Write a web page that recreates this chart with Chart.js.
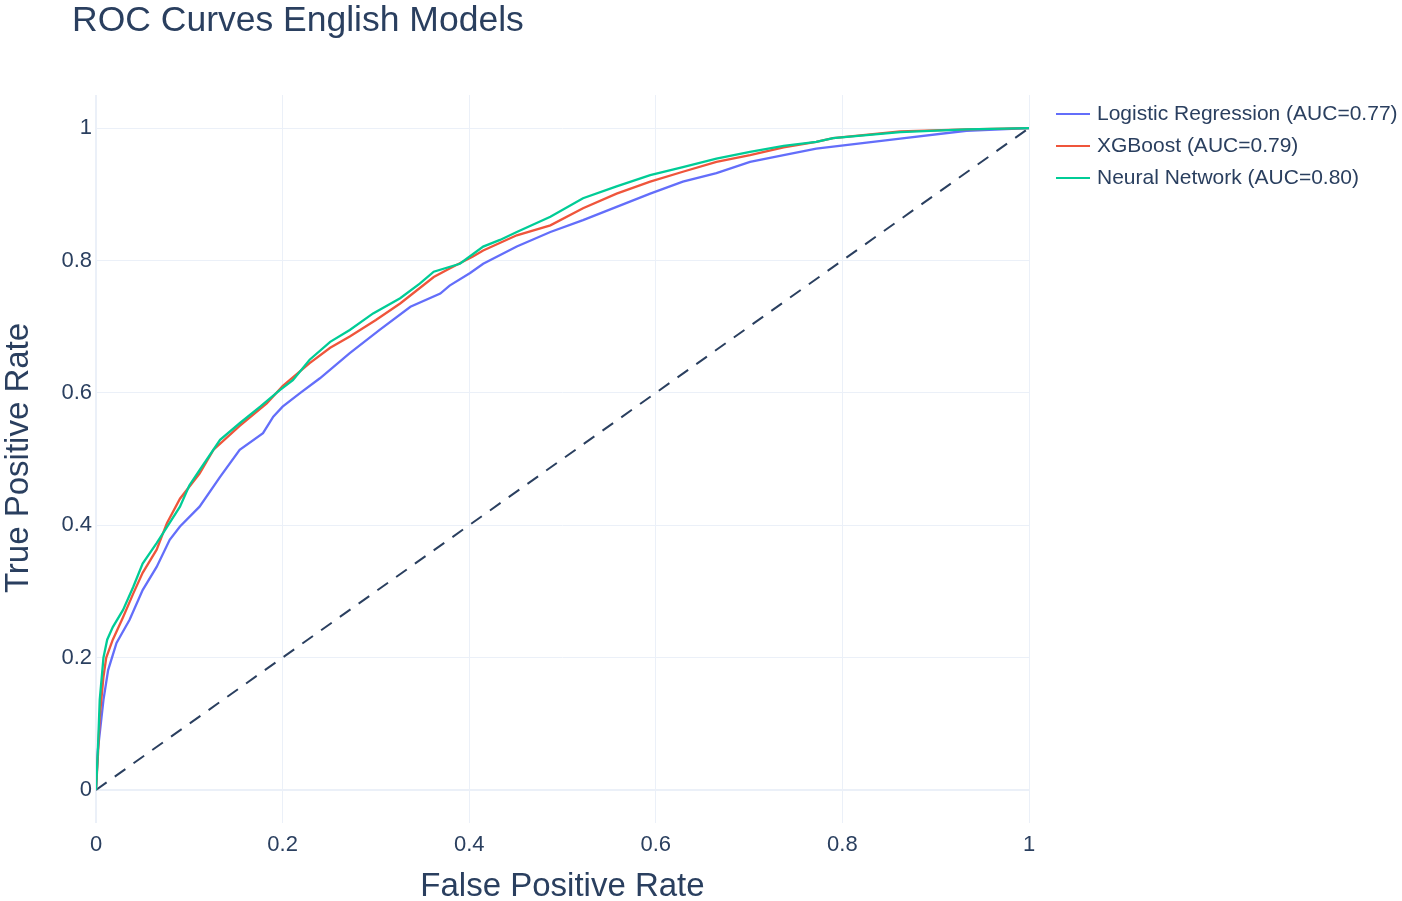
<!DOCTYPE html>
<html>
<head>
<meta charset="utf-8">
<script src="https://cdn.jsdelivr.net/npm/chart.js@4.4.1/dist/chart.umd.min.js"></script>
<style>
  html, body { margin: 0; padding: 0; background: #fff; }
  #wrap { width: 1402px; height: 901px; }
</style>
</head>
<body>
<div id="wrap"><canvas id="roc"></canvas></div>
<script>
// ---- data ----
const seriesNames = ["Logistic Regression (AUC=0.77)", "XGBoost (AUC=0.79)", "Neural Network (AUC=0.80)"];

const lrFpr = [0, 0.002, 0.008, 0.013, 0.022, 0.036, 0.05, 0.065, 0.079, 0.09, 0.111, 0.133, 0.154, 0.179, 0.19, 0.2, 0.219, 0.24, 0.272, 0.304, 0.337, 0.369, 0.379, 0.401, 0.415, 0.451, 0.487, 0.522, 0.558, 0.594, 0.629, 0.665, 0.701, 0.737, 0.772, 0.826, 0.862, 0.933, 1];
const lrTpr = [0, 0.06, 0.136, 0.181, 0.222, 0.257, 0.302, 0.337, 0.378, 0.398, 0.428, 0.473, 0.514, 0.539, 0.564, 0.579, 0.6, 0.622, 0.66, 0.695, 0.73, 0.75, 0.762, 0.781, 0.795, 0.821, 0.843, 0.861, 0.881, 0.901, 0.919, 0.932, 0.949, 0.959, 0.969, 0.978, 0.984, 0.996, 1];

const xgbFpr = [0, 0.002, 0.004, 0.008, 0.011, 0.018, 0.029, 0.04, 0.05, 0.065, 0.076, 0.09, 0.111, 0.126, 0.154, 0.183, 0.2, 0.229, 0.251, 0.272, 0.3, 0.326, 0.362, 0.379, 0.404, 0.415, 0.451, 0.487, 0.522, 0.558, 0.594, 0.629, 0.665, 0.701, 0.737, 0.772, 0.79, 0.862, 0.933, 1];
const xgbTpr = [0, 0.05, 0.11, 0.171, 0.2, 0.227, 0.261, 0.297, 0.328, 0.363, 0.403, 0.44, 0.478, 0.514, 0.55, 0.584, 0.61, 0.645, 0.668, 0.685, 0.71, 0.735, 0.775, 0.788, 0.806, 0.815, 0.838, 0.853, 0.879, 0.901, 0.919, 0.934, 0.949, 0.959, 0.971, 0.979, 0.985, 0.995, 0.998, 1];

const nnFpr = [0, 0.002, 0.004, 0.008, 0.012, 0.018, 0.029, 0.04, 0.05, 0.065, 0.076, 0.09, 0.1, 0.111, 0.133, 0.154, 0.176, 0.197, 0.211, 0.229, 0.251, 0.272, 0.297, 0.326, 0.347, 0.362, 0.39, 0.415, 0.433, 0.451, 0.487, 0.522, 0.558, 0.594, 0.629, 0.665, 0.701, 0.737, 0.772, 0.79, 0.862, 0.933, 1];
const nnTpr = [0, 0.06, 0.136, 0.2, 0.227, 0.246, 0.272, 0.307, 0.342, 0.373, 0.397, 0.428, 0.46, 0.483, 0.529, 0.554, 0.579, 0.604, 0.619, 0.65, 0.677, 0.695, 0.72, 0.743, 0.765, 0.783, 0.795, 0.821, 0.831, 0.843, 0.866, 0.894, 0.912, 0.929, 0.941, 0.954, 0.964, 0.973, 0.979, 0.985, 0.994, 0.998, 1];

const chanceFpr = [0, 1];
const chanceTpr = [0, 1];

const tickValues = [0, 0.2, 0.4, 0.6, 0.8, 1];
// ---------------------------------------

const colors = ["#636efa", "#EF553B", "#00cc96"];
const textColor = "#2a3f5f";
const gridColor = "#ebf0f8";
const FONT = '"Liberation Sans", Arial, Helvetica, sans-serif';

function pts(xs, ys) {
  return xs.map((x, i) => ({ x: x, y: ys[i] }));
}

// lower order is drawn last (on top): green over red over blue
const datasets = [
  { label: seriesNames[2], data: pts(nnFpr, nnTpr), borderColor: colors[2], order: 0 },
  { label: seriesNames[1], data: pts(xgbFpr, xgbTpr), borderColor: colors[1], order: 1 },
  { label: seriesNames[0], data: pts(lrFpr, lrTpr), borderColor: colors[0], order: 2 },
  { label: "chance", data: pts(chanceFpr, chanceTpr), borderColor: textColor, borderDash: [13, 10], borderWidth: 2, order: 3 },
].map((d) => Object.assign({ borderWidth: 2.3, pointRadius: 0, tension: 0, fill: false }, d));

// title, legend and axis titles drawn in plotly-like positions
const decor = {
  id: "decor",
  afterDraw(chart) {
    const ctx = chart.ctx;
    const area = chart.chartArea;
    ctx.save();
    ctx.fillStyle = textColor;
    ctx.textBaseline = "middle";

    ctx.font = "35.5px " + FONT;
    ctx.textAlign = "left";
    ctx.fillText("ROC Curves English Models", 72, 21);

    ctx.font = "33px " + FONT;
    ctx.textAlign = "center";
    ctx.fillText("False Positive Rate", (area.left + area.right) / 2, 887);

    ctx.save();
    ctx.translate(19, 458);
    ctx.rotate(-Math.PI / 2);
    ctx.fillText("True Positive Rate", 0, 0);
    ctx.restore();

    // legend
    ctx.font = "21px " + FONT;
    ctx.textAlign = "left";
    seriesNames.forEach((name, i) => {
      const y = 114 + i * 32;
      ctx.strokeStyle = colors[i];
      ctx.lineWidth = 2;
      ctx.beginPath();
      ctx.moveTo(1056, y);
      ctx.lineTo(1090, y);
      ctx.stroke();
      ctx.fillStyle = textColor;
      ctx.fillText(name, 1097, y);
    });
    ctx.restore();
  },
};

new Chart(document.getElementById("roc"), {
  type: "line",
  data: { datasets: datasets },
  plugins: [decor],
  options: {
    responsive: true,
    maintainAspectRatio: false,
    animation: false,
    layout: { padding: { top: 95, right: 373, bottom: 0, left: 0 } },
    plugins: { legend: { display: false }, title: { display: false }, tooltip: { enabled: false } },
    scales: {
      x: {
        type: "linear",
        min: 0,
        max: 1,
        afterFit(scale) { scale.height = 78; },
        afterBuildTicks(scale) { scale.ticks = tickValues.map((v) => ({ value: v })); },
        grid: { color: gridColor, lineWidth: (c) => (c.tick && c.tick.value === 0 ? 2 : 1), drawTicks: false },
        border: { display: false },
        ticks: {
          color: textColor,
          font: { family: FONT, size: 22 },
          padding: 9,
          maxRotation: 0,
          callback: (v) => String(v),
        },
      },
      y: {
        type: "linear",
        min: -0.05,
        max: 1.05,
        afterFit(scale) { scale.width = 96; },
        afterBuildTicks(scale) { scale.ticks = tickValues.map((v) => ({ value: v })); },
        grid: { color: gridColor, lineWidth: (c) => (c.tick && c.tick.value === 0 ? 2 : 1), drawTicks: false },
        border: { display: false },
        ticks: {
          color: textColor,
          font: { family: FONT, size: 22 },
          padding: 4,
          callback: (v) => String(v),
        },
      },
    },
  },
});
</script>
</body>
</html>
